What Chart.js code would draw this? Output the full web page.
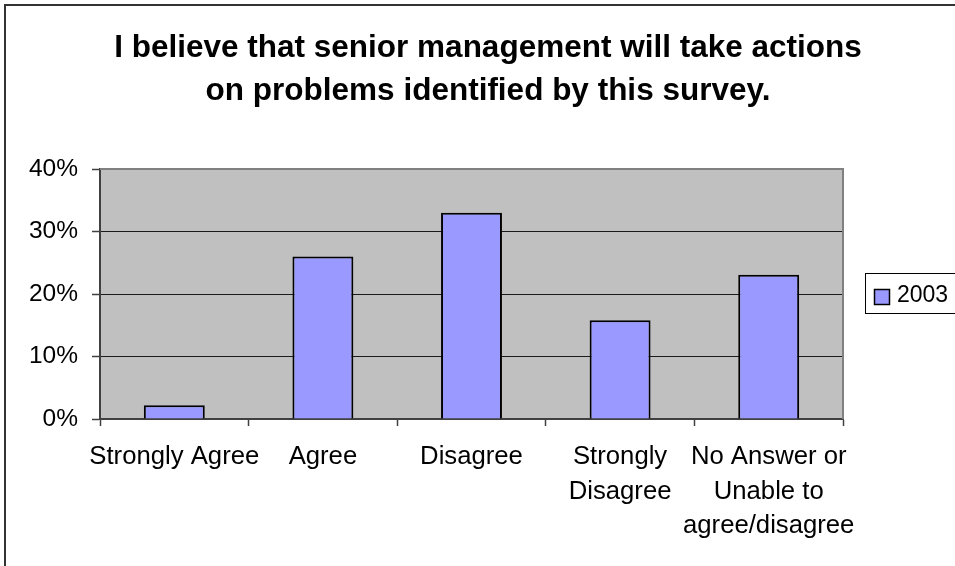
<!DOCTYPE html>
<html>
<head>
<meta charset="utf-8">
<title>Survey: senior management actions</title>
<script src="https://cdn.jsdelivr.net/npm/chart.js@4"></script>
<style>
  html, body { margin: 0; padding: 0; background: #ffffff; }
  #wrap { width: 955px; height: 566px; overflow: hidden; }
</style>
</head>
<body>
<div id="wrap"><canvas id="chart" width="955" height="566"></canvas></div>
<script>
// Survey answers and the share of respondents (percent) for each
const titleLines = [
  'I believe that senior management will take actions',
  'on problems identified by this survey.'
];
const categories = [
  'Strongly Agree',
  'Agree',
  'Disagree',
  ['Strongly', 'Disagree'],
  ['No Answer or', 'Unable to', 'agree/disagree']
];
const seriesName = '2003';
const series2003 = [2.2, 26, 33, 15.8, 23.1];
const yMin = 0, yMax = 40, yStep = 10;

const FONT = "'Liberation Sans', Arial, sans-serif";
const BAR_FILL = '#9999FF';
const PLOT_FILL = '#C0C0C0';

// Frame, plot background, plot border, title and legend
const decorations = {
  id: 'decorations',
  beforeDraw(chart) {
    const { ctx, chartArea: a } = chart;
    ctx.save();
    ctx.fillStyle = '#ffffff';
    ctx.fillRect(0, 0, chart.width, chart.height);
    ctx.fillStyle = PLOT_FILL;
    ctx.fillRect(a.left, a.top, a.right - a.left, a.bottom - a.top);
    ctx.restore();
  },
  afterDraw(chart) {
    const { ctx, chartArea: a } = chart;
    ctx.save();
    // outer chart frame
    ctx.strokeStyle = '#333333';
    ctx.lineWidth = 2;
    ctx.strokeRect(5, 5, 2000, 2000);

    // plot area top and right edges
    ctx.strokeStyle = '#808080';
    ctx.lineWidth = 2;
    ctx.beginPath();
    ctx.moveTo(a.left, a.top);
    ctx.lineTo(a.right, a.top);
    ctx.lineTo(a.right, a.bottom);
    ctx.stroke();

    // title
    ctx.fillStyle = '#000000';
    ctx.font = "bold 31.5px " + FONT;
    ctx.textAlign = 'center';
    ctx.textBaseline = 'alphabetic';
    titleLines.forEach((line, i) => ctx.fillText(line, 488, 57 + i * 43));

    // legend
    const ds = chart.data.datasets[0];
    ctx.strokeStyle = '#000000';
    ctx.lineWidth = 1;
    ctx.strokeRect(865.5, 273.5, 200, 40);
    ctx.fillStyle = ds.backgroundColor;
    ctx.fillRect(874, 289, 15, 15);
    ctx.lineWidth = 1.5;
    ctx.strokeRect(874.5, 289.5, 15, 15);
    ctx.fillStyle = '#000000';
    ctx.font = "23px " + FONT;
    ctx.textAlign = 'left';
    ctx.fillText(ds.label, 897, 302);
    ctx.restore();
  }
};

new Chart(document.getElementById('chart'), {
  type: 'bar',
  data: {
    labels: categories,
    datasets: [{
      label: seriesName,
      data: series2003,
      backgroundColor: BAR_FILL,
      borderColor: '#000000',
      borderWidth: 2,
      barPercentage: 0.41,
      categoryPercentage: 1
    }]
  },
  options: {
    responsive: false,
    animation: false,
    devicePixelRatio: 1,
    layout: { padding: { left: 0, right: 112, top: 169, bottom: 0 } },
    plugins: {
      legend: { display: false },
      title: { display: false },
      tooltip: { enabled: false }
    },
    scales: {
      x: {
        offset: true,
        grid: {
          display: true,
          drawOnChartArea: false,
          offset: true,
          tickLength: 7,
          tickColor: '#404040',
          tickWidth: 1.5
        },
        border: { display: true, color: '#404040', width: 2 },
        ticks: {
          autoSkip: false,
          maxRotation: 0,
          minRotation: 0,
          padding: 14,
          color: '#000000',
          font: { family: FONT, size: 25.7, lineHeight: 1.34 }
        },
        afterFit(scale) { scale.height = 566 - 419; }
      },
      y: {
        min: yMin,
        max: yMax,
        ticks: {
          stepSize: yStep,
          padding: 14,
          color: '#000000',
          font: { family: FONT, size: 24.5 },
          callback: (v) => v + '%'
        },
        grid: {
          color: '#1a1a1a',
          lineWidth: 1,
          tickLength: 8,
          tickColor: '#404040',
          tickWidth: 1.5
        },
        border: { display: true, color: '#404040', width: 2 },
        afterFit(scale) { scale.width = 100; }
      }
    }
  },
  plugins: [decorations]
});
</script>
</body>
</html>
